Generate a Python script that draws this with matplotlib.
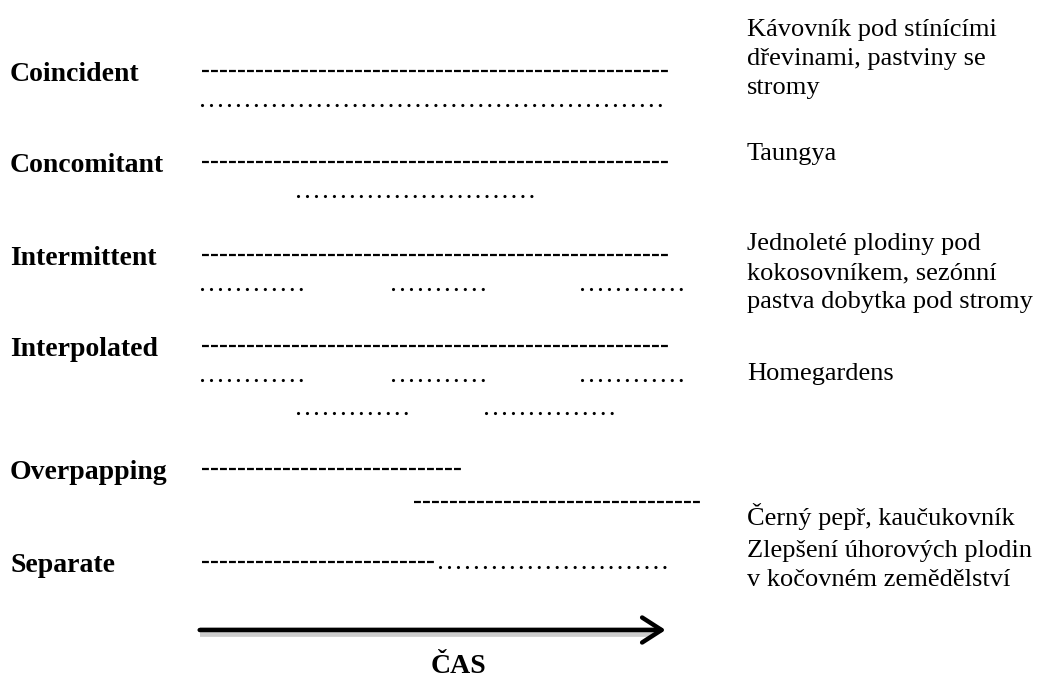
import matplotlib.pyplot as plt
from matplotlib.patches import FancyArrowPatch

# agroforestry arrangements in time (time axis 0..100)
categories = ["Coincident", "Concomitant", "Intermittent",
              "Interpolated", "Overpapping", "Separate"]
examples = [
    "Kávovník pod stínícími\ndřevinami, pastviny se\nstromy",
    "Taungya",
    "Jednoleté plodiny pod\nkokosovníkem, sezónní\npastva dobytka pod stromy",
    "Homegardens",
    "Černý pepř, kaučukovník",
    "Zlepšení úhorových plodin\nv kočovném zemědělství",
]
# dashed component (start, end, lane)
dash_spans = [
    [(0, 100, 0)],
    [(0, 100, 0)],
    [(0, 100, 0)],
    [(0, 100, 0)],
    [(0, 56, 0), (45.5, 107, 1)],
    [(0, 50, 0)],
]
# dotted component (start, end, lane)
dot_spans = [
    [(0, 99, 1)],
    [(20.5, 71, 1)],
    [(0, 21.5, 1), (41, 62, 1), (81.5, 103, 1)],
    [(0, 21.5, 1), (41, 62, 1), (81.5, 103, 1), (20.5, 44, 2), (61, 88, 2)],
    [],
    [(51, 101, 0)],
]
time_label = "ČAS"

# layout (pixels)
W, H = 1038, 680
row_y = [72, 163, 256, 347, 470, 563]
example_y = [36, 160, 250, 380, 525, 557]
line_h = 29
lane_gap = 33
px_per_t = 4.66
x0_px = 202

fig = plt.figure(figsize=(W / 100, H / 100), dpi=100)
ax = fig.add_axes([0, 0, 1, 1])
ax.set_xlim(-x0_px / px_per_t, (W - x0_px) / px_per_t)
ax.set_ylim(H, 0)
ax.axis('off')

serif = ['Liberation Serif', 'DejaVu Serif']

for i, cat in enumerate(categories):
    y = row_y[i]
    ax.text(10 / W, 1 - (y + 9) / H, cat, transform=ax.transAxes,
            family=serif, fontsize=20, fontweight='bold', va='baseline', ha='left')
    for s, e, lane in dash_spans[i]:
        ax.plot([s, e], [y + lane * lane_gap - 1] * 2, color='black', lw=1.6,
                linestyle=(0, (3.1, 0.95)), solid_capstyle='butt')
    for s, e, lane in dot_spans[i]:
        yy = y + lane * lane_gap + (4 if lane == 0 else 0)
        ax.plot([s, e], [yy] * 2, color='black', lw=2.3,
                linestyle=(0, (0.01, 2.8)), dash_capstyle='round')
    for k, line in enumerate(examples[i].split('\n')):
        ax.text(747 / W, 1 - (example_y[i] + k * line_h) / H, line,
                transform=ax.transAxes, family=serif, fontsize=19,
                va='baseline', ha='left')

# time arrow with soft shadow
ay = 630
ax.plot([-0.5, 97], [ay + 1.5] * 2, color='#aaaaaa', lw=7, alpha=0.6,
        solid_capstyle='butt', zorder=0)
arr = FancyArrowPatch((-0.5, ay), (99.5, ay),
                      arrowstyle='->,head_length=0.7,head_width=0.45',
                      lw=3.2, color='black', mutation_scale=20,
                      shrinkA=0, shrinkB=0, zorder=3)
ax.add_patch(arr)
ax.text(55, 673, time_label, family=serif, fontsize=20, fontweight='bold',
        ha='center', va='baseline')

fig.savefig('out.png', dpi=100)
